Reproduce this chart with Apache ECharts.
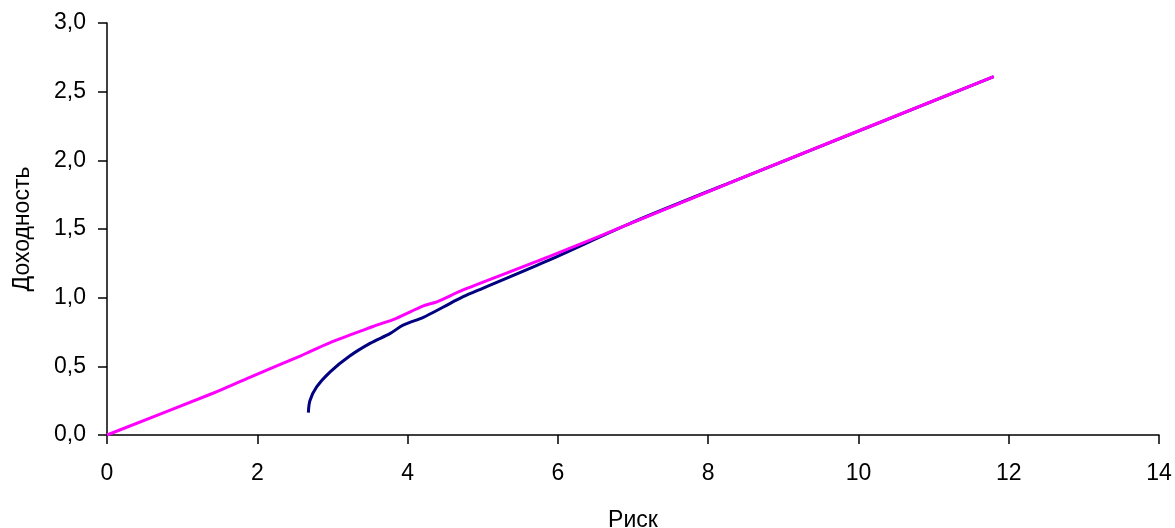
<!DOCTYPE html>
<html>
<head>
<meta charset="utf-8">
<script src="https://cdn.jsdelivr.net/npm/echarts@6/dist/echarts.min.js"></script>
<style>
html,body{margin:0;padding:0;background:#fff;}
#chart{width:1175px;height:528px;}
</style>
</head>
<body>
<div id="chart"></div>
<script>
// Data
const magentaRisk   = [0, 1.41, 1.90, 2.57, 2.70, 3.00, 3.54, 3.85, 4.21, 4.39, 4.74, 5.89, 7.00, 8.55, 11.80];
const magentaReturn = [0, 0.304, 0.42, 0.575, 0.607, 0.68, 0.79, 0.85, 0.94, 0.97, 1.056, 1.30, 1.548, 1.894, 2.61];

const navyRisk   = [2.68, 2.70, 2.79, 2.97, 3.23, 3.50, 3.77, 3.94, 4.21, 4.47, 4.74, 5.00, 5.89, 7.00, 8.55, 11.80];
const navyReturn = [0.163, 0.25, 0.35, 0.46, 0.575, 0.667, 0.74, 0.80, 0.857, 0.93, 1.007, 1.068, 1.275, 1.55, 1.894, 2.61];

const xAxisName = 'Риск';
const yAxisName = 'Доходность';

function pairs(xs, ys){ return xs.map((x,i)=>[x, ys[i]]); }

const font = 'Liberation Sans, Arial, sans-serif';
const chart = echarts.init(document.getElementById('chart'), null, {renderer:'canvas'});
chart.setOption({
  animation:false,
  backgroundColor:'#ffffff',
  grid:{left:107, right:16, top:23, bottom:93, containLabel:false, outerBoundsMode:'none'},
  xAxis:{
    type:'value', min:0, max:14, interval:2,
    name:xAxisName, nameLocation:'middle', nameGap:74,
    nameTextStyle:{color:'#000', fontSize:23, fontFamily:font},
    axisLine:{show:true, lineStyle:{color:'#000', width:1.5}},
    axisTick:{show:true, inside:false, length:9, lineStyle:{color:'#000', width:1.5}},
    axisLabel:{color:'#000', fontSize:23, fontFamily:font, margin:27},
    splitLine:{show:false}
  },
  yAxis:{
    type:'value', min:0, max:3, interval:0.5,
    name:yAxisName, nameLocation:'middle', nameGap:73,
    nameTextStyle:{color:'#000', fontSize:23, fontFamily:font},
    axisLine:{show:true, lineStyle:{color:'#000', width:1.5}},
    axisTick:{show:true, inside:false, length:9, lineStyle:{color:'#000', width:1.5}},
    axisLabel:{color:'#000', fontSize:23, fontFamily:font, margin:21,
      formatter:v=>v.toFixed(1).replace('.', ',')},
    splitLine:{show:false}
  },
  series:[
    {type:'line', data:pairs(navyRisk, navyReturn), showSymbol:false, smooth:0.3,
     lineStyle:{color:'#000080', width:3}, itemStyle:{color:'#000080'}},
    {type:'line', data:pairs(magentaRisk, magentaReturn), showSymbol:false, smooth:0.3,
     lineStyle:{color:'#FF00FF', width:3}, itemStyle:{color:'#FF00FF'}}
  ]
});
</script>
</body>
</html>
